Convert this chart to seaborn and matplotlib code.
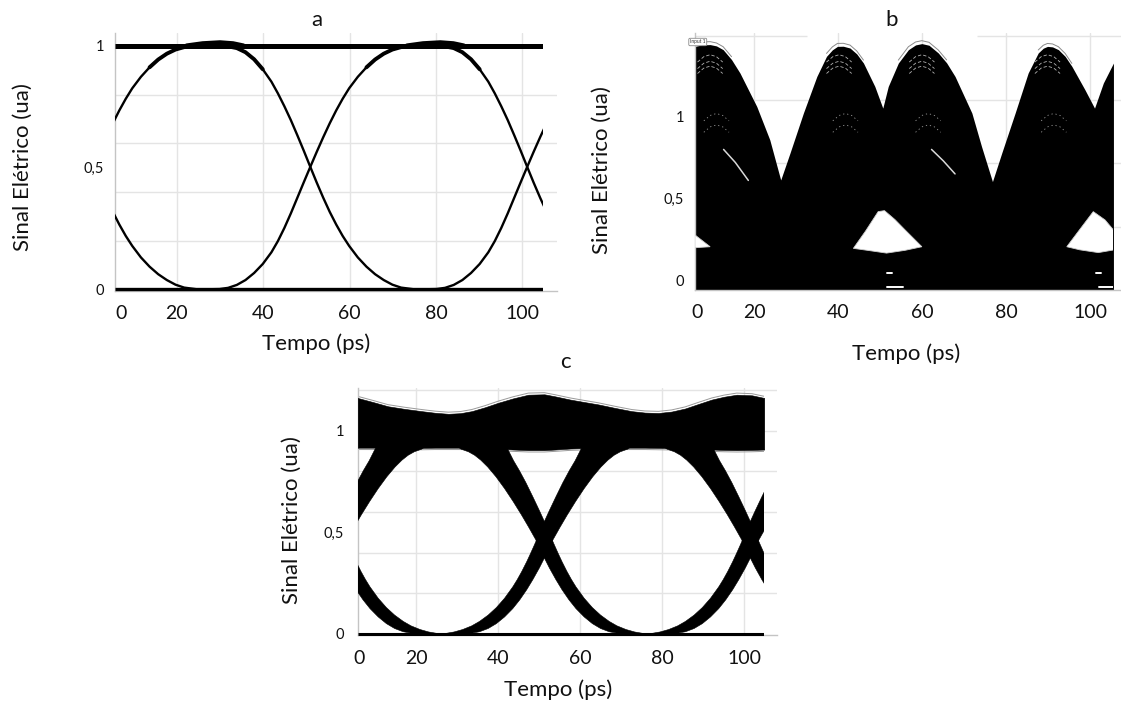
import numpy as np
import pandas as pd
import matplotlib
matplotlib.use("Agg")
import matplotlib.pyplot as plt
from matplotlib.patches import Rectangle
import seaborn as sns

sns.set_theme(style="white")
plt.rcParams["font.family"] = ["Lato", "DejaVu Sans"]

# ---------------------------------------------------------------- data
x_tick_labels = ["0", "20", "40", "60", "80", "100"]
x_tick_pos = [20, 40, 60, 80, 100]
y_tick_labels = ["0", "0,5", "1"]
y_tick_pos = [0, 0.5, 1]

# (a) back-to-back eye: clean transitions, offsets (ps) from each crossing
a_span = [5.7, 104.8]
a_cross = [0.7, 50.9, 101.1]
a_dt = [-24, -21, -19, -17, -15, -13, -11, -9, -7.5, -6, -4.5, -3, -1.5, 0,
        1.5, 3, 4.5, 6, 7.5, 9, 11, 13, 15, 17, 19, 21, 24]
a_fall = [1.0, 1.0, 0.998, 0.991, 0.974, 0.945, 0.904, 0.853, 0.805, 0.752, 0.695,
          0.633, 0.569, 0.503, 0.438, 0.376, 0.318, 0.266, 0.219, 0.178, 0.131,
          0.093, 0.062, 0.038, 0.019, 0.007, 0.0]
a_rise = [0.0, 0.001, 0.006, 0.018, 0.038, 0.067, 0.104, 0.152, 0.198, 0.252, 0.312,
          0.376, 0.440, 0.503, 0.565, 0.625, 0.682, 0.735, 0.783, 0.826, 0.873,
          0.912, 0.944, 0.968, 0.985, 0.995, 1.0]
a_rails = [1.0, 0.0]
a_bump_t = [[22.3, 26, 30, 33, 35.4], [73.3, 77, 81, 84, 86.4]]
a_bump_v = [1.0, 1.009, 1.013, 1.009, 1.0]

# (b) distorted eye: upper envelope of the trace cloud and open regions
b_span = [5.9, 105.5]
b_env_t = [5.9, 7.5, 9.5, 11.0, 12.6, 14.6, 16.6, 20.6, 23.7, 26.3, 28.5, 31.7, 34.9,
           37.2, 38.6, 39.8, 41.2, 42.8, 44.4, 46.0, 48.7, 50.6, 51.9, 54.3, 56.7,
           58.4, 59.9, 61.6, 63.8, 65.8, 67.8, 71.8, 74.1, 76.7, 78.9, 82.1, 85.2,
           87.6, 88.8, 89.8, 91.0, 92.4, 94.0, 95.6, 98.7, 101.0, 103.1, 105.5]
b_env_v = [1.431, 1.440, 1.442, 1.434, 1.411, 1.350, 1.268, 1.063, 0.859, 0.613, 0.777,
           1.023, 1.247, 1.370, 1.410, 1.431, 1.432, 1.421, 1.385, 1.329, 1.186, 1.053,
           1.186, 1.329, 1.411, 1.440, 1.448, 1.438, 1.391, 1.330, 1.247, 1.023, 0.818,
           0.603, 0.777, 1.023, 1.268, 1.391, 1.420, 1.431, 1.428, 1.411, 1.370, 1.309,
           1.166, 1.053, 1.207, 1.329]
b_eye_left_t = [5.9, 9.5, 5.9]
b_eye_left_v = [0.276, 0.204, 0.198]
b_eye_mid_t = [43.6, 46.5, 49.5, 51.0, 53.5, 55.9, 59.9, 55.9, 51.5, 47.5]
b_eye_mid_v = [0.194, 0.300, 0.419, 0.425, 0.370, 0.307, 0.204, 0.182, 0.165, 0.180]
b_eye_right_t = [94.4, 97.5, 100.7, 103.5, 105.5, 105.5, 101.9, 97.5]
b_eye_right_v = [0.204, 0.310, 0.419, 0.368, 0.307, 0.184, 0.168, 0.185]
b_gap_start = [51.6, 51.5, 101.4, 102.0]
b_gap_end = [52.7, 55.5, 102.5, 105.5]
b_gap_v = [0.041, -0.045, 0.041, -0.045]
b_peak_t = [9.5, 40.2, 59.9, 89.8]
b_arc_v = [1.38, 1.34, 1.31]
b_mid_arc_v = [1.02, 0.95]
b_arc_dt = [-3.0, -1.5, 0, 1.5, 3.0]
b_arc_dv = [-0.045, -0.012, 0, -0.012, -0.045]
b_streak_t = [[12.7, 15.5, 18.6], [62.2, 65.0, 67.8]]
b_streak_v = [[0.80, 0.72, 0.61], [0.80, 0.73, 0.65]]

# (c) eye after transmission: '1' rail band and transition band edges
c_span = [5.8, 104.9]
c_cross = [1.1, 51.3, 101.5]
c_top_t = [5.8, 9.5, 13.2, 17.3, 21.4, 24.7, 27.9, 30.8, 33.6, 36.8, 40.0, 43.7, 47.4,
           51.3, 53.9, 57.6, 61.0, 64.5, 68.5, 72.6, 75.8, 79.1, 82.3, 85.6, 88.8,
           92.1, 95.1, 98.2, 101.9, 104.9]
c_top_hi = [1.162, 1.142, 1.121, 1.108, 1.097, 1.089, 1.084, 1.087, 1.097, 1.116, 1.138,
            1.160, 1.178, 1.180, 1.170, 1.154, 1.142, 1.130, 1.113, 1.097, 1.090, 1.088,
            1.095, 1.110, 1.132, 1.154, 1.168, 1.178, 1.175, 1.162]
c_top_lo = [0.917, 0.917, 0.917, 0.916, 0.916, 0.917, 0.917, 0.917, 0.916, 0.914, 0.912,
            0.908, 0.905, 0.905, 0.908, 0.913, 0.915, 0.916, 0.917, 0.917, 0.917, 0.916,
            0.915, 0.914, 0.911, 0.908, 0.906, 0.905, 0.906, 0.908]
# falling band edges, offsets (ps) from the crossing; rising bands are mirrored
c_early_dt = [-22.0, -20.3, -18.5, -17.0, -15.5, -13.8, -11.8, -9.7, -7.6, -5.6, -3.8,
              -2.1, -0.4, 1.2, 2.8, 4.3, 6.0, 7.7, 9.7, 11.7, 13.7, 15.8, 18.0, 20.0]
c_early_v = [0.935, 0.910, 0.897, 0.880, 0.856, 0.822, 0.774, 0.716, 0.652, 0.587, 0.525,
             0.464, 0.390, 0.326, 0.268, 0.218, 0.168, 0.125, 0.084, 0.051, 0.027, 0.011,
             0.003, 0.0]
c_late_dt = [-9.6, -8.8, -7.5, -6.1, -4.5, -2.8, -1.2, 0.0, 1.2, 2.4, 3.4, 4.3, 5.5, 6.6,
             7.7, 9.7, 11.7, 13.7, 15.8, 17.7, 19.9, 22.0, 24.0, 26.0]
c_late_v = [0.935, 0.905, 0.853, 0.805, 0.745, 0.675, 0.607, 0.554, 0.496, 0.440, 0.395,
            0.356, 0.308, 0.268, 0.232, 0.176, 0.130, 0.093, 0.062, 0.040, 0.022, 0.010,
            0.003, 0.0]

# ---------------------------------------------------------------- layout
W, H = 1121, 703
fig = plt.figure(figsize=(W / 100, H / 100), dpi=100)
fig.patch.set_facecolor("white")
GRID = "#e4e4e4"
SPINE = "#c4c4c4"
INK = "#111111"


def axes_px(left, top, right, bottom):
    return fig.add_axes([left / W, 1 - bottom / H, (right - left) / W, (bottom - top) / H])


def fig_text(x, y, s, **kw):
    fig.text(x / W, 1 - y / H, s, ha="center", va="center", color=INK, **kw)


def style_axes(ax, xlim, ylim, zero_pos, grid_y, xpad, ypad):
    ax.set_xlim(*xlim)
    ax.set_ylim(*ylim)
    ax.set_facecolor("white")
    for g in x_tick_pos:
        ax.axvline(g, color=GRID, lw=1.0, zorder=0)
    for g in grid_y:
        ax.axhline(g, color=GRID, lw=1.0, zorder=0)
    ax.set_xticks([zero_pos] + x_tick_pos)
    ax.set_xticklabels(x_tick_labels, fontsize=14, color=INK)
    ax.set_yticks(y_tick_pos)
    ax.set_yticklabels(y_tick_labels, fontsize=10.5, color=INK)
    ax.tick_params(axis="x", length=0, pad=xpad)
    ax.tick_params(axis="y", length=0, pad=ypad)
    for side in ("top", "right"):
        ax.spines[side].set_visible(False)
    for side in ("left", "bottom"):
        ax.spines[side].set_color(SPINE)
        ax.spines[side].set_linewidth(1.0)


def clip_all(ax, span):
    rect = Rectangle((span[0], -5), span[1] - span[0], 10, transform=ax.transData)
    for art in list(ax.lines) + list(ax.collections) + list(ax.patches):
        if art.get_zorder() > 0.5:
            art.set_clip_path(rect)


# ---------------------------------------------------------------- panel a
ax_a = axes_px(115, 33, 557, 291)
style_axes(ax_a, (5.7, 108.0), (-0.007, 1.053), 7.1, [0.2, 0.4, 0.6, 0.8], 10, 8)

rows = []
for i, c in enumerate(a_cross):
    for dt, vf, vr in zip(a_dt, a_fall, a_rise):
        rows.append({"t": c + dt, "v": vf, "trace": f"fall{i}"})
        rows.append({"t": c + dt, "v": vr, "trace": f"rise{i}"})
a_df = pd.DataFrame(rows)
sns.lineplot(data=a_df, x="t", y="v", units="trace", estimator=None, sort=False,
             color="black", linewidth=1.7, ax=ax_a, legend=False, zorder=3)
a_hi = a_df[a_df["v"] >= 0.90]
sns.lineplot(data=a_hi, x="t", y="v", units="trace", estimator=None, sort=False,
             color="black", linewidth=2.8, ax=ax_a, legend=False, zorder=3)
ax_a.plot(a_span, [a_rails[0]] * 2, color="black", lw=3.6, zorder=4, solid_capstyle="butt")
ax_a.plot(a_span, [a_rails[1]] * 2, color="black", lw=2.4, zorder=4, solid_capstyle="butt")
for bt in a_bump_t:
    ax_a.plot(bt, a_bump_v, color="black", lw=3.6, zorder=4)
clip_all(ax_a, a_span)
ax_a.set_xlabel("")
ax_a.set_ylabel("")

# ---------------------------------------------------------------- panel b
ax_b = axes_px(695, 33, 1121, 290)
style_axes(ax_b, (5.9, 107.3), (-0.061, 1.513), 6.3, [0.327, 0.716, 1.104], 10, 8)
# the topmost grid row is drawn only where the scope shows it
ax_b.hlines([1.497, 1.497], [5.9, 73.0], [32.5, 107.3], color=GRID, lw=1.0, zorder=0)
ax_b.fill_between(b_env_t, -0.061, b_env_v, color="black", lw=0, zorder=2)
b_top = np.array(b_env_v, dtype=float)
ax_b.plot(b_env_t, np.where(b_top > 1.30, b_top + 0.018, np.nan), color="#8a8a8a",
          lw=0.7, zorder=2)
for ts, vs in ((b_eye_left_t, b_eye_left_v), (b_eye_mid_t, b_eye_mid_v),
               (b_eye_right_t, b_eye_right_v)):
    ax_b.fill(ts, vs, color="white", lw=0.6, ec="#cfcfcf", zorder=3)
for x0, x1, v in zip(b_gap_start, b_gap_end, b_gap_v):
    ax_b.plot([x0, x1], [v, v], color="white", lw=1.4, zorder=3)
for pk in b_peak_t:
    for lv in b_arc_v:
        ax_b.plot([pk + d for d in b_arc_dt], [lv + d for d in b_arc_dv], color="white",
                  lw=0.6, ls=(0, (4, 2.5)), alpha=0.7, zorder=3)
    for lv in b_mid_arc_v:
        ax_b.plot([pk + 1.5 + d for d in b_arc_dt], [lv + d for d in b_arc_dv],
                  color="white", lw=0.6, ls=(0, (1.5, 3.5)), alpha=0.6, zorder=3)
for ts, vs in zip(b_streak_t, b_streak_v):
    ax_b.plot(ts, vs, color="white", lw=1.1, alpha=0.85, zorder=3)
clip_all(ax_b, b_span)
ax_b.set_xlabel("")
ax_b.set_ylabel("")
fig.text(690 / W, 1 - 42 / H, "Input 1", fontsize=3.5, ha="left", va="center",
         color="#333333",
         bbox=dict(boxstyle="round,pad=0.25", fc="white", ec="#888888", lw=0.6))

# ---------------------------------------------------------------- panel c
ax_c = axes_px(357.7, 388, 777, 635)
style_axes(ax_c, (5.8, 108.0), (-0.005, 1.211), 6.2,
           [0.2, 0.4, 0.6, 0.8, 1.0, 1.2], 11, 10)
ax_c.plot(c_top_t, np.array(c_top_hi) + 0.008, color="#9a9a9a", lw=0.7, zorder=2)
ax_c.plot(c_top_t, np.array(c_top_lo) - 0.009, color="#9a9a9a", lw=0.7, zorder=2)
ax_c.fill_between(c_top_t, c_top_lo, c_top_hi, color="black", lw=0.4, ec="black", zorder=3)
for t0 in c_cross:
    ys = list(c_early_v) + list(c_late_v)[::-1]
    fx = [t0 + d for d in c_early_dt] + [t0 + d for d in c_late_dt][::-1]
    rx = [t0 - d for d in c_early_dt] + [t0 - d for d in c_late_dt][::-1]
    ax_c.fill(fx, ys, color="black", lw=0.4, ec="black", zorder=3)
    ax_c.fill(rx, ys, color="black", lw=0.4, ec="black", zorder=3)
ax_c.plot(c_span, [0, 0], color="black", lw=2.2, zorder=4, solid_capstyle="butt")
clip_all(ax_c, c_span)

# ---------------------------------------------------------------- text
fig_text(317, 20, "a", fontsize=16)
fig_text(892, 20, "b", fontsize=16)
fig_text(565, 362, "c", fontsize=16)
for x, y in ((316, 344), (906, 354), (558, 690)):
    fig_text(x, y, "Tempo (ps)", fontsize=16)
for x, y in ((23, 167), (602, 170), (292, 520)):
    fig_text(x, y, "Sinal Elétrico (ua)", fontsize=16, rotation=90)

fig.savefig("out.png", dpi=100, facecolor="white")
